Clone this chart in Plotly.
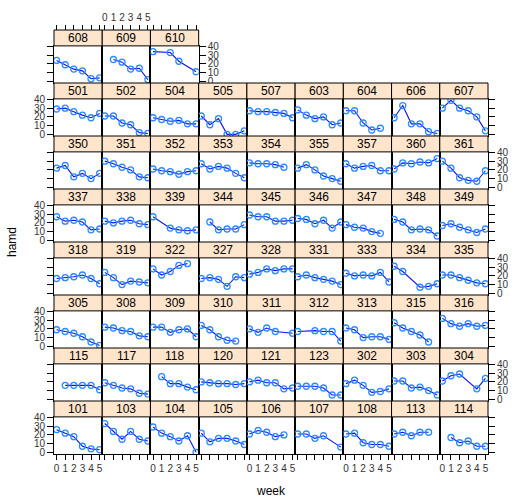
import plotly.graph_objects as go

# ---- data (Riesby depression study: HAMD score by week, per subject) ----
subjects = [101, 103, 104, 105, 106, 107, 108, 113, 114,
            115, 117, 118, 120, 121, 123, 302, 303, 304,
            305, 308, 309, 310, 311, 312, 313, 315, 316,
            318, 319, 322, 327, 328, 331, 333, 334, 335,
            337, 338, 339, 344, 345, 346, 347, 348, 349,
            350, 351, 352, 353, 354, 355, 357, 360, 361,
            501, 502, 504, 505, 507, 603, 604, 606, 607,
            608, 609, 610]
N = None
hamd_wk0 = [26, 33, 29, 22, 21, 21, 21, 21, N,
            N, 19, N, 20, 20, 15, 18, 21, 21,
            19, 22, 22, 24, 20, 17, 21, 27, 32,
            17, 24, 28, 17, 22, 19, 23, 31, 21,
            27, 22, 27, N, 29, 25, 18, 24, 17,
            22, 30, 21, 27, 28, 22, 27, 21, 30,
            29, 21, 19, 21, 27, 28, 27, 19, 30,
            24, N, 34]
hamd_wk1 = [22, 24, 22, 12, 25, 21, 22, 23, 17,
            16, 16, 26, 19, 22, 15, 22, 21, 27,
            17, 21, 22, 19, 16, N, 19, 21, 26,
            18, 18, 21, 18, 24, 21, 20, 25, 21,
            22, 20, N, 21, 27, 24, 15, 21, 19,
            25, 27, 19, 21, 27, 26, 22, 28, 22,
            30, 21, 17, 11, 26, 22, 27, 33, 39,
            19, 25, N]
hamd_wk2 = [18, 15, 18, 16, 23, 16, 11, 19, 11,
            16, 13, 18, 18, 19, 15, 16, 13, 29,
            15, 18, 16, 11, 21, 18, 10, 17, 23,
            19, 10, 25, 16, 28, 18, 21, N, 18,
            23, 22, 14, 12, 27, 19, 14, 12, 15,
            12, 23, 18, 24, 27, 20, 24, 27, 11,
            26, 13, 15, 18, 26, 18, 13, 12, 30,
            14, 22, 33]
hamd_wk3 = [7, 24, 13, 16, 18, 19, 9, 23, 13,
            16, 12, 18, 18, 19, 13, 8, 14, N,
            11, 17, 19, 7, 17, 17, 11, 13, 26,
            21, 14, 32, 8, 26, 16, 20, 7, 15,
            21, 23, 12, 13, 22, 23, 10, 13, 12,
            16, 20, 15, 22, 26, 13, 25, 29, 8,
            22, 11, 16, 0, 25, 20, 5, 12, 27,
            12, 14, 23]
hamd_wk4 = [4, 15, 19, 13, 20, N, 9, 23, 7,
            16, 7, 14, 17, 12, 5, 9, 10, 12,
            5, 12, 20, 6, N, 17, 11, 5, 23,
            17, 13, 34, 19, 28, 14, 24, 8, 12,
            12, 19, 11, 13, 22, 14, 8, 12, 9,
            10, 12, 18, 16, 23, 10, 19, 28, 7,
            19, 2, 12, 0, 24, 11, 7, 3, 20,
            3, 15, N]
hamd_wk5 = [3, 13, 0, 9, N, 6, 7, N, 7,
            11, 6, 11, 18, 13, 5, 12, 5, 24,
            1, 11, 11, N, 15, 6, 8, N, 24,
            11, 12, N, 18, 28, 10, 13, 11, 11,
            13, 18, 12, 18, 23, 21, N, 5, 13,
            16, 11, 19, 11, N, 7, 19, 33, 19,
            24, 1, 12, 4, 19, 13, N, 1, 4,
            4, 2, 11]
weeks = [0, 1, 2, 3, 4, 5]
y_ticks = [0, 10, 20, 30, 40]

NCOL = 9
NROW = 8
STRIP_PX = 16.0
PLOT_W = 443.0
PLOT_H = 427.0
rowh = 1.0 / NROW
colw = 1.0 / NCOL
strip_f = STRIP_PX / PLOT_H

FONT = "Liberation Sans, Arial, Helvetica, sans-serif"
TICKFONT = dict(family=FONT, size=10, color="#333")
XR = [-0.3, 5.3]
YR = [-1.9, 40.6]

fig = go.Figure()
layout = {}
shapes = []
annotations = []

cols_data = [hamd_wk0, hamd_wk1, hamd_wk2, hamd_wk3, hamd_wk4, hamd_wk5]
for k, sid in enumerate(subjects):
    r = k // NCOL
    c = k % NCOL
    n_in_row = min(NCOL, len(subjects) - r * NCOL)
    last_c = n_in_row - 1
    idx = k + 1
    xn = "x" if idx == 1 else f"x{idx}"
    yn = "y" if idx == 1 else f"y{idx}"
    xk = "xaxis" if idx == 1 else f"xaxis{idx}"
    yk = "yaxis" if idx == 1 else f"yaxis{idx}"

    xs, ys = [], []
    for w, arr in zip(weeks, cols_data):
        if arr[k] is not None:
            xs.append(w)
            ys.append(arr[k])
    fig.add_trace(go.Scatter(
        x=xs, y=ys, xaxis=xn, yaxis=yn, mode="lines+markers",
        line=dict(color="#1010ee", width=1.1),
        marker=dict(symbol="circle-open", size=6, color="#2a8cff",
                    line=dict(width=1.3)),
        showlegend=False, hoverinfo="x+y"))

    x0 = c * colw
    x1 = (c + 1) * colw
    yb = r * rowh
    yt = (r + 1) * rowh - strip_f

    bottom = (r == 0)
    layout[xk] = dict(
        domain=[x0, x1], anchor=yn, range=XR, showgrid=False, zeroline=False,
        showline=True, mirror=True, linecolor="black", linewidth=1,
        tickvals=weeks, ticks="outside" if bottom else "", ticklen=5,
        tickcolor="black", showticklabels=bottom and c % 2 == 0,
        tickfont=TICKFONT, fixedrange=True)

    left = (c == 0)
    right = (c == last_c)
    ticks_on = left or right
    side = "left" if left else "right"
    lbl = (left and r % 2 == 0) or (right and not left and r % 2 == 1)
    layout[yk] = dict(
        domain=[yb, yt], anchor=xn, range=YR, showgrid=False, zeroline=False,
        showline=True, mirror=True, linecolor="black", linewidth=1,
        tickvals=y_ticks, ticks="outside" if ticks_on else "", ticklen=6,
        tickcolor="black", side=side, showticklabels=lbl,
        tickfont=TICKFONT, fixedrange=True)

    # strip
    shapes.append(dict(type="rect", xref="paper", yref="paper",
                       x0=x0, x1=x1, y0=yt, y1=(r + 1) * rowh,
                       fillcolor="#ffe5cc", line=dict(color="black", width=1),
                       layer="above"))
    annotations.append(dict(text=str(sid), xref="paper", yref="paper",
                            x=(x0 + x1) / 2, y=yt + strip_f / 2,
                            xanchor="center", yanchor="middle",
                            showarrow=False,
                            font=dict(family=FONT, size=12, color="black")))

    # top axis (above strips) for the top row
    if r == NROW - 1:
        extra = len(subjects) + 1 + c
        ek = f"xaxis{extra}"
        layout[ek] = dict(
            domain=[x0, x1], anchor="free", position=1.0, overlaying=xn,
            side="top", range=XR, showgrid=False, zeroline=False,
            showline=False, tickvals=weeks, ticks="outside", ticklen=5,
            tickcolor="black", showticklabels=(c % 2 == 1),
            tickfont=TICKFONT, fixedrange=True)
        fig.add_trace(go.Scatter(
            x=[None], y=[None], xaxis=f"x{extra}", yaxis=yn, mode="markers",
            showlegend=False, hoverinfo="skip"))

annotations.append(dict(text="week", xref="paper", yref="paper", x=0.5, y=0,
                        xanchor="center", yanchor="top", yshift=-28,
                        showarrow=False,
                        font=dict(family=FONT, size=12, color="black")))
annotations.append(dict(text="hamd", xref="paper", yref="paper", x=0, y=0.5,
                        xanchor="center", yanchor="middle", xshift=-42,
                        textangle=-90, showarrow=False,
                        font=dict(family=FONT, size=12, color="black")))

fig.update_layout(
    width=521, height=497,
    margin=dict(l=54, r=24, t=27, b=43),
    paper_bgcolor="white", plot_bgcolor="white",
    shapes=shapes, annotations=annotations, showlegend=False,
    **layout)

fig.write_html("out.html", config={"displayModeBar": False})
